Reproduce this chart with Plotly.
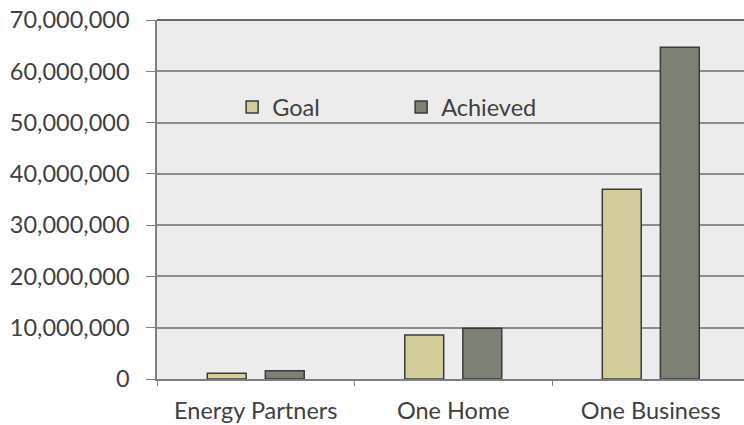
import plotly.graph_objects as go

# Program totals
categories = ["Energy Partners", "One Home", "One Business"]
goal = [1100000, 8600000, 37000000]
achieved = [1600000, 9900000, 64700000]
y_ticks = [0, 10000000, 20000000, 30000000, 40000000, 50000000, 60000000, 70000000]

FONT = "Lato"
FSIZE = 23.5
TEXT = "#404040"
BAR_W = 0.197

fig = go.Figure()
fig.add_trace(go.Bar(
    name="Goal", x=categories, y=goal,
    width=BAR_W, offset=-0.2455,
    marker=dict(color="#d3cd9c", line=dict(color="#3a3a3a", width=1.5)),
))
fig.add_trace(go.Bar(
    name="Achieved", x=categories, y=achieved,
    width=BAR_W, offset=0.0485,
    marker=dict(color="#7b8274", line=dict(color="#3a3a3a", width=1.5)),
))

fig.update_layout(
    width=744, height=425,
    margin=dict(l=157, r=0, t=20, b=46),
    paper_bgcolor="white",
    plot_bgcolor="#ececec",
    barmode="overlay",
    font=dict(family=FONT, size=FSIZE, color=TEXT),
    legend=dict(
        orientation="h", x=0.128, y=0.757, xanchor="left", yanchor="middle",
        bgcolor="rgba(0,0,0,0)", entrywidth=124, entrywidthmode="pixels",
        font=dict(family=FONT, size=FSIZE, color=TEXT),
        itemclick=False,
    ),
    showlegend=True,
)
fig.update_xaxes(
    type="category", range=[-0.5, 2.472],
    tickson="boundaries", ticks="outside", ticklen=5, tickcolor="#7f7f7f",
    showline=True, linecolor="#7f7f7f", linewidth=1.5,
    showgrid=False, ticklabelstandoff=10,
    tickfont=dict(size=FSIZE, color=TEXT),
)
fig.update_yaxes(
    range=[0, 70000000], tickvals=y_ticks, tickformat=",d",
    ticks="outside", ticklen=9, tickcolor="#7f7f7f",
    showline=True, linecolor="#7f7f7f", linewidth=1.5,
    showgrid=True, gridcolor="#8c8c8c", gridwidth=1.5,
    zeroline=False, ticklabelstandoff=12,
    tickfont=dict(size=FSIZE, color=TEXT),
)
# darker top border of the plot area
fig.add_shape(type="line", xref="paper", yref="paper", x0=0, x1=1, y0=1, y1=1,
              line=dict(color="#3a3a3a", width=1.5))

fig.write_html("out.html")
